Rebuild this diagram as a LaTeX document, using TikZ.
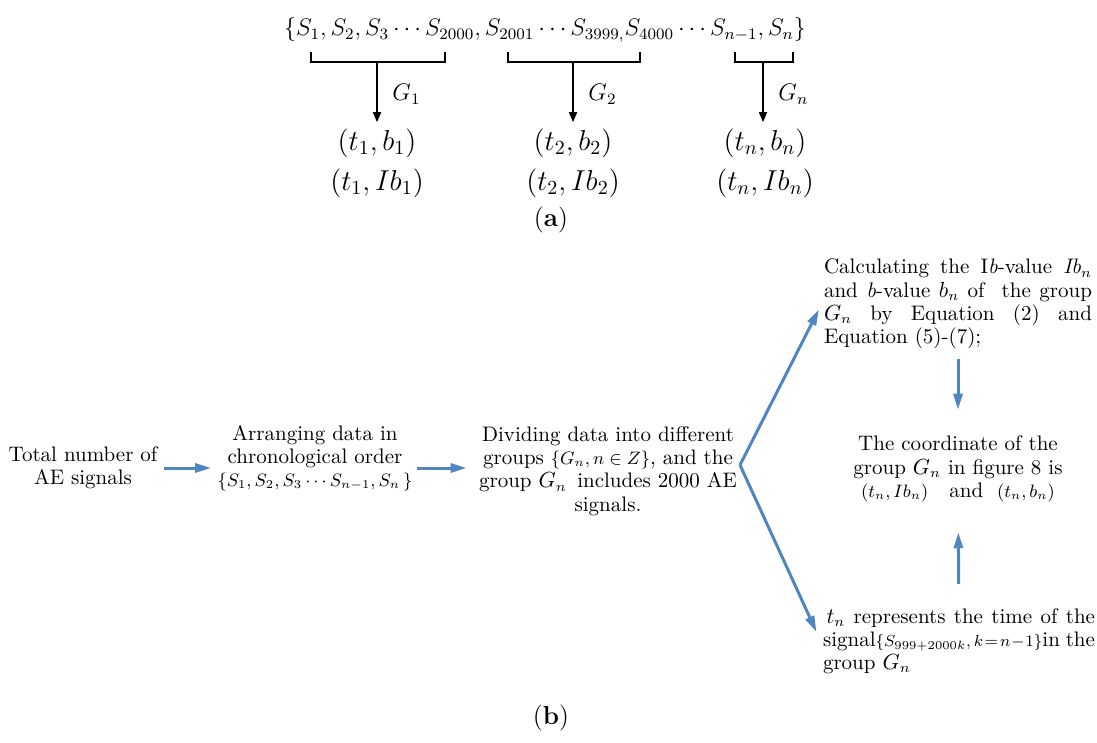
\documentclass[tikz,border=0pt]{standalone}
\usepackage{amsmath}
\usetikzlibrary{arrows.meta}
\definecolor{aeblue}{HTML}{4F86C0}
\tikzstyle{txt} = [inner sep=1pt, font=\fontsize{10.5}{11.6}\selectfont]
\tikzstyle{para} = [txt, text width=134pt, align=justify]
\tikzstyle{flow} = [draw=aeblue, line width=1.5pt, -{Triangle[length=8pt,width=4.5pt]}]
\tikzstyle{grp} = [line width=0.8pt, -{Triangle[length=5pt,width=4pt]}]
\tikzstyle{big} = [inner sep=1pt, font=\fontsize{14.5}{16}\selectfont]

\begin{document}
\begin{tikzpicture}[x=0.5pt, y=-0.5pt]
        \useasboundingbox (0,0) rectangle (1097,743);

        \node[big, font=\fontsize{12}{14}\selectfont](set) at (545,30){$\{S_1,S_2,S_3\cdots S_{2000},S_{2001}\cdots S_{3999,}S_{4000}\cdots S_{n-1},S_n\}$};
        \draw[line width=0.8pt] (311,52) -- (311,62) -- (445,62) -- (445,52);
        \draw[line width=0.8pt] (508,52) -- (508,62) -- (640,62) -- (640,52);
        \draw[line width=0.8pt] (735,52) -- (735,62) -- (793,62) -- (793,52);
        \coordinate (g1) at (377,62);
        \coordinate (g2) at (573,62);
        \coordinate (g3) at (763,62);

        \node[big](p1) at (377,143){$(t_1,b_1)$};
        \node[big](q1) at (377,183){$(t_1,Ib_1)$};
        \node[big](p2) at (573,143){$(t_2,b_2)$};
        \node[big](q2) at (573,183){$(t_2,Ib_2)$};
        \node[big](p3) at (765,143){$(t_n,b_n)$};
        \node[big](q3) at (765,183){$(t_n,Ib_n)$};
        \node[big, font=\fontsize{13}{15}\selectfont](capa) at (551,220){(\textbf{a})};

        \draw[grp, shorten >=2pt] (g1) -- node[right=4pt, font=\large]{$G_1$} (g1 |- p1.north);
        \draw[grp, shorten >=2pt] (g2) -- node[right=4pt, font=\large]{$G_2$} (g2 |- p2.north);
        \draw[grp, shorten >=2pt] (g3) -- node[right=4pt, font=\large]{$G_n$} (g3 |- p3.north);

        \node[txt, align=center](total) at (83,468){Total number of\\AE signals};
        \node[txt, align=center](arrange) at (315,458){Arranging data in\\chronological order\\{\small$\{S_1,S_2,S_3\cdots S_{n-1},S_n\,\}$}};
        \node[txt, align=center](divide) at (608,471){Dividing data into different\\groups {\small$\{G_n,n\in Z\}$}, and the\\group $G_n$\, includes 2000 AE\\signals.};
        \node[para](calc) at (958,304){Calculating the I\textit{b}-value \textit{Ib}$_n$ and \textit{b}-value $b_n$ of\ \ the group $G_n$ by Equation (2) and Equation (5)-(7);};
        \node[txt, align=center](coord) at (958,469){The coordinate of the\\group $G_n$ in figure 8 is\\{\small$(t_n,Ib_n)$}\quad and\ \ {\small$(t_n,b_n)$}};
        \node[para, text width=136pt](time) at (959,641){\,$t_n$ represents the time of the signal\mbox{\footnotesize$\{S_{999+2000k},k\!=\!n\!-\!1\}$}in the group $G_n$};
        \node[big, font=\fontsize{13}{15}\selectfont](capb) at (551,718){(\textbf{b})};
        \coordinate (fork) at (740,465);

        \draw[flow, shorten <=2pt, shorten >=2pt] (total.east) -- (arrange.west |- total.east);
        \draw[flow, shorten <=1pt, shorten >=5pt] (arrange.east |- total.east) -- (divide.west |- total.east);
        \draw[flow, shorten >=3pt] (fork) -- (calc.west);
        \draw[flow, shorten >=5pt] (fork) -- (time.west);
        \draw[flow, shorten <=4pt, shorten >=12pt] (calc) -- (coord);
        \draw[flow, shorten <=11pt, shorten >=14pt] (time) -- (coord);
    \end{tikzpicture}
\end{document}
